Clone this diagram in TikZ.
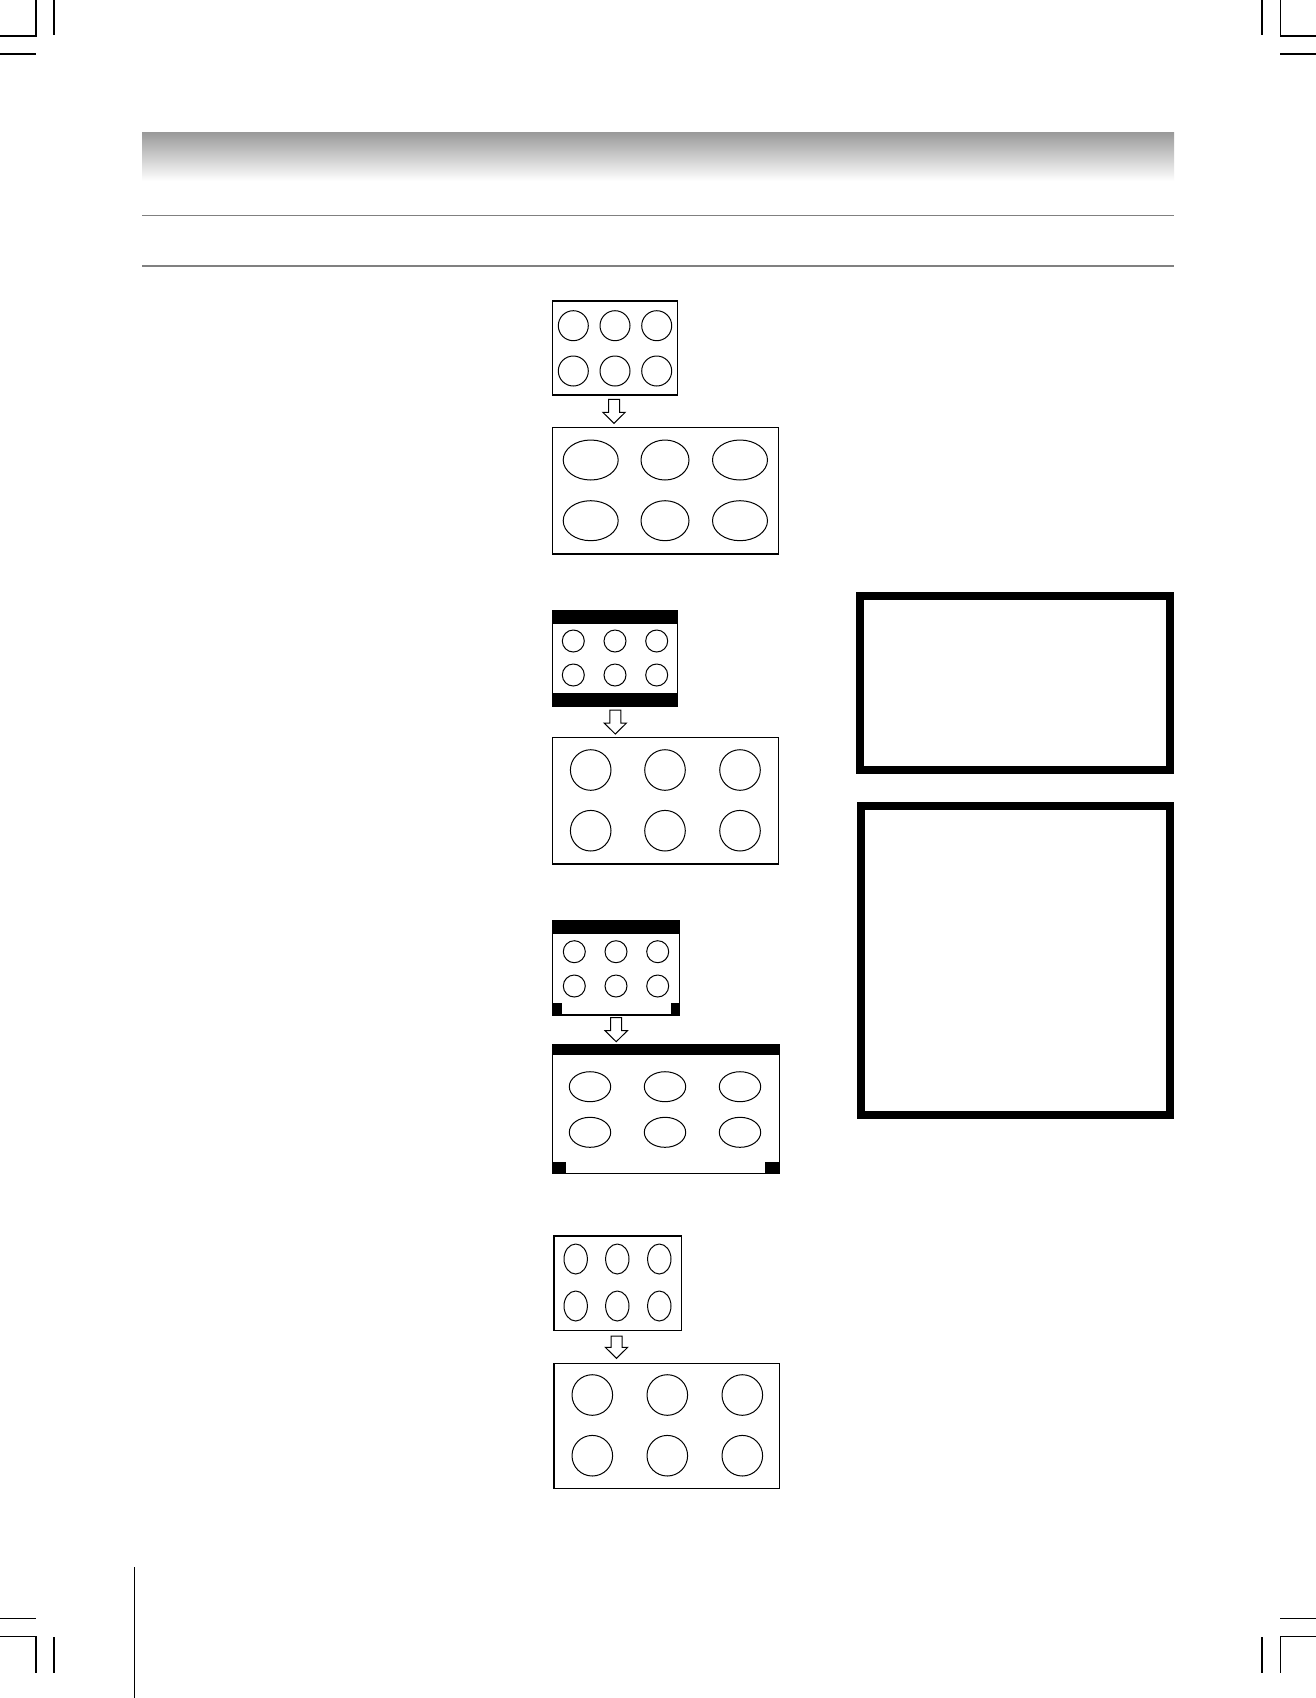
\documentclass[tikz,border=0pt]{standalone}
\usetikzlibrary{calc}
\tikzset{
  boxline/.style={draw=black, line width=0.75pt, fill=white},
  ringline/.style={draw=black, line width=0.5pt},
  barfill/.style={fill=black},
  frameline/.style={draw=black, line width=4pt},
  cropline/.style={draw=black, line width=0.65pt},
  ruleline/.style={draw=black!50, line width=0.65pt},
  arrowline/.style={draw=black, line width=0.5pt, fill=white, line join=miter}
}
\newcommand{\hollowarrow}[3]{%
  \draw[arrowline] ({#1-5.5},#2) -- ({#1+5.5},#2) -- ({#1+5.5},{#3-11}) -- ({#1+11.2},{#3-11})
     -- (#1,#3) -- ({#1-11.2},{#3-11}) -- ({#1-5.5},{#3-11}) -- cycle;}
\newcommand{\rowcircles}[5]{% x1 x2 x3 y r
  \foreach \cx in {#1,#2,#3} {\draw[ringline] (\cx,#4) circle [radius=#5];}}
\newcommand{\rowellipses}[6]{% x1 x2 x3 y rx ry
  \foreach \cx in {#1,#2,#3} {\draw[ringline] (\cx,#4) ellipse [x radius=#5, y radius=#6];}}
\begin{document}
\begin{tikzpicture}[x=0.5pt,y=-0.5pt]
\useasboundingbox[fill=white] (0,0) rectangle (1316,1698);

% crop marks
\draw[cropline] (36,0) -- (36,36) -- (0,36);
\draw[cropline] (54,0) -- (54,35);
\draw[cropline] (0,54) -- (36,54);
\draw[cropline] (1262,0) -- (1262,35);
\draw[cropline] (1280.3,0) -- (1280.3,36) -- (1316,36);
\draw[cropline] (1280.3,54) -- (1316,54);
\draw[cropline] (0,1618.3) -- (36,1618.3);
\draw[cropline] (0,1636.3) -- (36,1636.3) -- (36,1672.7);
\draw[cropline] (54,1637) -- (54,1672.7);
\draw[cropline] (1280.3,1618.3) -- (1316,1618.3);
\draw[cropline] (1316,1636.3) -- (1280.3,1636.3) -- (1280.3,1672.7);
\draw[cropline] (1262,1637) -- (1262,1672.7);
\draw[cropline] (134.3,1567.3) -- (134.3,1698);

% header band and rules
\shade[top color=black!40, bottom color=white] (142,132) rectangle (1174,181);
\draw[ruleline] (142,215.3) -- (1174,215.3);
\draw[ruleline] (142,266) -- (1174,266);

% ---- A
\draw[boxline] (552.7,301) rectangle (677.7,395);
\rowcircles{573.3}{615}{656.7}{325.7}{15}
\rowcircles{573.3}{615}{656.7}{371}{15}
\hollowarrow{614}{399.3}{423.3}
\draw[boxline] (552.7,427.3) rectangle (778.3,554);
\draw[ringline] (590.7,460) ellipse [x radius=27.5, y radius=20];
\draw[ringline] (665,460) ellipse [x radius=24, y radius=20];
\draw[ringline] (740,460) ellipse [x radius=27.5, y radius=20];
\draw[ringline] (590.7,520.7) ellipse [x radius=27.5, y radius=20];
\draw[ringline] (665,520.7) ellipse [x radius=24, y radius=20];
\draw[ringline] (740,520.7) ellipse [x radius=27.5, y radius=20];

% ---- B
\draw[boxline] (552.7,611) rectangle (677.7,706.7);
\fill[barfill] (552.7,611) rectangle (677.7,624);
\fill[barfill] (552.7,692.7) rectangle (677.7,706.7);
\rowcircles{573.3}{615}{656.7}{641}{11}
\rowcircles{573.3}{615}{656.7}{675}{11}
\hollowarrow{615.3}{710}{734}
\draw[boxline] (552.7,737.3) rectangle (778.3,864);
\rowcircles{590.7}{665}{740}{770}{20.3}
\rowcircles{590.7}{665}{740}{830.7}{20.3}

% ---- C
\draw[boxline] (552.7,921) rectangle (679.3,1015);
\fill[barfill] (552.7,921) rectangle (679.3,934);
\fill[barfill] (552.7,1002.7) rectangle (561.7,1015);
\fill[barfill] (671,1002.7) rectangle (679.3,1015);
\rowcircles{574.3}{616}{657.7}{951.7}{11}
\rowcircles{574.3}{616}{657.7}{986}{11}
\hollowarrow{616.2}{1017.7}{1041.7}
\draw[boxline] (552.7,1045) rectangle (779.3,1173.3);
\fill[barfill] (552.7,1045) rectangle (779.3,1055);
\fill[barfill] (552.7,1161.7) rectangle (566,1173.3);
\fill[barfill] (765.3,1161.7) rectangle (779.3,1173.3);
\rowellipses{590}{665}{740}{1086.7}{20.7}{15}
\rowellipses{590}{665}{740}{1132.3}{20.7}{15}

% ---- D
\draw[boxline] (554,1236) rectangle (681.7,1330.7);
\rowellipses{575.7}{617.3}{659.3}{1259}{11.7}{15}
\rowellipses{575.7}{617.3}{659.3}{1306}{11.7}{15}
\hollowarrow{616.5}{1336}{1358.3}
\draw[boxline] (554,1363.3) rectangle (779.3,1488.3);
\rowcircles{592.3}{667.3}{742.3}{1395}{20.3}
\rowcircles{592.3}{667.3}{742.3}{1455.7}{20.3}

% ---- right frames
\draw[frameline] (860,596) rectangle (1170,770);
\draw[frameline] (860.7,806) rectangle (1170,1115);
\end{tikzpicture}
\end{document}
